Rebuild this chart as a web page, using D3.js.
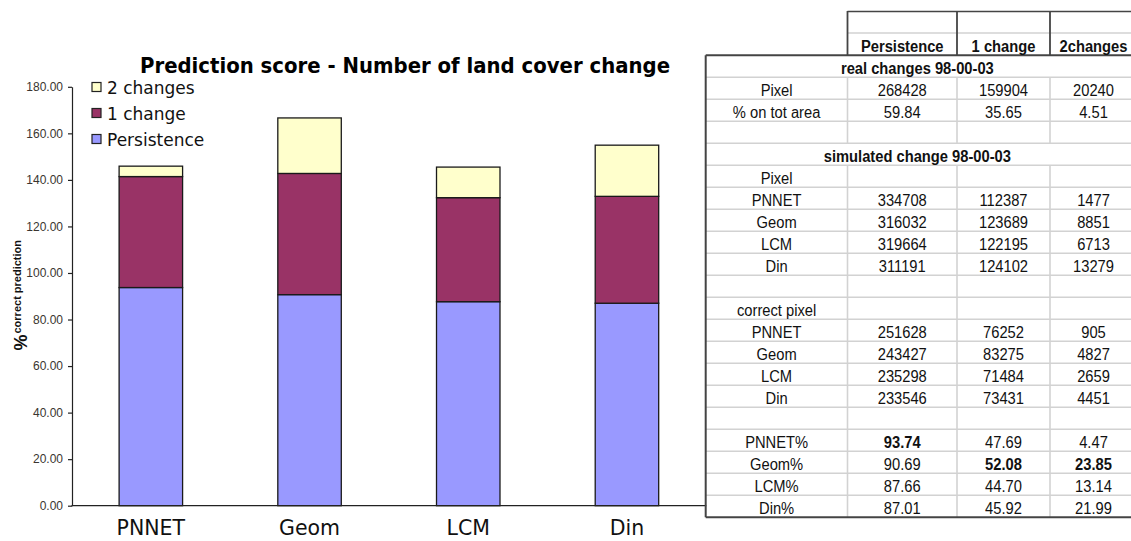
<!DOCTYPE html>
<html>
<head>
<meta charset="utf-8">
<script src="https://cdn.jsdelivr.net/npm/d3@7"></script>
<style>
  html, body { margin: 0; padding: 0; background: #fff; }
  svg { display: block; }
</style>
</head>
<body>
<svg id="chart" width="1131" height="541"></svg>
<script>
// ---------- chart data ----------
const categories = ["PNNET", "Geom", "LCM", "Din"];
const seriesNames = ["Persistence", "1 change", "2 changes"];
const persistence = [93.74, 90.69, 87.66, 87.01];
const oneChange = [47.69, 52.08, 44.70, 45.92];
const twoChanges = [4.47, 23.85, 13.14, 21.99];
const yTicks = [0, 20, 40, 60, 80, 100, 120, 140, 160, 180];
const seriesColors = ["#9999ff", "#993366", "#ffffcc"];
const titleText = "Prediction score - Number of land cover change";

// ---------- table data ----------
const tableColumns = ["Persistence", "1 change", "2changes"];
const realTitle = "real changes 98-00-03";
const realPixel = [268428, 159904, 20240];
const realPct = [59.84, 35.65, 4.51];
const simTitle = "simulated change 98-00-03";
const simPixel = [
  [334708, 112387, 1477],
  [316032, 123689, 8851],
  [319664, 122195, 6713],
  [311191, 124102, 13279]
];
const correctPixel = [
  [251628, 76252, 905],
  [243427, 83275, 4827],
  [235298, 71484, 2659],
  [233546, 73431, 4451]
];

const svg = d3.select("#chart");

// ---------- scales ----------
const y = d3.scaleLinear().domain([0, 180]).range([505.7, 86.8]);
const x = d3.scaleBand().domain(categories).range([71.5, 706.3])
  .paddingInner(0.6).paddingOuter(0.3);

const rows = categories.map((c, i) => ({
  cat: c,
  "Persistence": persistence[i],
  "1 change": oneChange[i],
  "2 changes": twoChanges[i]
}));
const stacked = d3.stack().keys(seriesNames)(rows);
const color = d3.scaleOrdinal().domain(seriesNames).range(seriesColors);

// ---------- bars ----------
const gBars = svg.append("g");
stacked.forEach(layer => {
  gBars.selectAll(null).data(layer).join("rect")
    .attr("x", d => x(d.data.cat))
    .attr("width", x.bandwidth())
    .attr("y", d => y(d[1]))
    .attr("height", d => y(d[0]) - y(d[1]))
    .attr("fill", color(layer.key))
    .attr("stroke", "#1a1a1a")
    .attr("stroke-width", 1.3);
});

// ---------- axes ----------
const yAxis = svg.append("g")
  .attr("transform", "translate(72,0)")
  .call(d3.axisLeft(y).tickValues(yTicks).tickFormat(d3.format(".2f"))
    .tickSize(4).tickSizeOuter(0).tickPadding(5));
yAxis.select(".domain").attr("stroke", "#222").attr("stroke-width", 1.2);
yAxis.selectAll(".tick line").attr("stroke", "#222").attr("stroke-width", 1.2);
yAxis.selectAll(".tick text")
  .attr("font-family", "'Liberation Sans', Arial, sans-serif")
  .attr("font-size", "12px")
  .attr("fill", "#3a3530");

// x axis line + labels
svg.append("line")
  .attr("x1", x.range()[0]).attr("x2", x.range()[1])
  .attr("y1", y(0)).attr("y2", y(0))
  .attr("stroke", "#222").attr("stroke-width", 1.3);

svg.append("g").selectAll("text").data(categories).join("text")
  .attr("x", d => x(d) + x.bandwidth() / 2)
  .attr("y", 535)
  .attr("text-anchor", "middle")
  .attr("font-family", "'DejaVu Sans', sans-serif")
  .attr("font-size", "20.5px")
  .attr("fill", "#111")
  .text(d => d);

// y-axis title
svg.append("text")
  .attr("transform", "translate(26.5,350.5) rotate(-90)")
  .attr("font-family", "'Liberation Sans', Arial, sans-serif")
  .attr("font-weight", "bold")
  .attr("font-size", "18px")
  .attr("fill", "#111")
  .text("%");
svg.append("text")
  .attr("transform", "translate(20.5,333.5) rotate(-90)")
  .attr("font-family", "'Liberation Sans', Arial, sans-serif")
  .attr("font-weight", "bold")
  .attr("font-size", "11px")
  .attr("fill", "#111")
  .text("correct prediction");

// title
svg.append("text")
  .attr("x", 140).attr("y", 73)
  .attr("font-family", "'DejaVu Sans', sans-serif")
  .attr("font-weight", "bold")
  .attr("font-size", "22px")
  .attr("fill", "#000")
  .attr("textLength", 530)
  .attr("lengthAdjust", "spacingAndGlyphs")
  .text(titleText);

// legend
const legendOrder = seriesNames.slice().reverse();
const gLeg = svg.append("g");
legendOrder.forEach((name, i) => {
  const by = 94 + i * 26;
  gLeg.append("rect")
    .attr("x", 92).attr("y", by - 11.5).attr("width", 9).attr("height", 9)
    .attr("fill", color(name)).attr("stroke", "#222").attr("stroke-width", 1.2);
  gLeg.append("text")
    .attr("x", 107).attr("y", by)
    .attr("font-family", "'DejaVu Sans', sans-serif")
    .attr("font-size", "17px")
    .attr("fill", "#111")
    .text(name);
});

// ---------- table ----------
const colX = [705.7, 847.5, 957, 1050, 1137];
const tTop = 55.3, rowH = 22;
const fmt2 = d3.format(".2f");
const pctCols = [persistence, oneChange, twoChanges];
const colMax = pctCols.map(a => d3.max(a));

const tRows = [];
tRows.push({ merged: realTitle });
tRows.push({ label: "Pixel", values: realPixel.map(String) });
tRows.push({ label: "% on tot area", values: realPct.map(fmt2) });
tRows.push({ label: "", values: [] });
tRows.push({ merged: simTitle });
tRows.push({ label: "Pixel", values: [] });
categories.forEach((c, i) => tRows.push({ label: c, values: simPixel[i].map(String) }));
tRows.push({ label: "", values: [] });
tRows.push({ label: "correct pixel", values: [] });
categories.forEach((c, i) => tRows.push({ label: c, values: correctPixel[i].map(String) }));
tRows.push({ label: "", values: [] });
categories.forEach((c, i) => tRows.push({
  label: c + "%",
  values: pctCols.map(a => fmt2(a[i])),
  bold: pctCols.map((a, j) => a[i] === colMax[j])
}));

const gT = svg.append("g");
const gridColor = "#d2d2d2";
const tBottom = tTop + rowH * tRows.length;

for (let r = 1; r < tRows.length; r++) {
  gT.append("line")
    .attr("x1", colX[0]).attr("x2", 1131)
    .attr("y1", tTop + r * rowH).attr("y2", tTop + r * rowH)
    .attr("stroke", gridColor).attr("stroke-width", 1.6);
}
tRows.forEach((row, r) => {
  if (row.merged) return;
  [1, 2, 3].forEach(c => {
    gT.append("line")
      .attr("x1", colX[c]).attr("x2", colX[c])
      .attr("y1", tTop + r * rowH).attr("y2", tTop + (r + 1) * rowH)
      .attr("stroke", gridColor).attr("stroke-width", 1.6);
  });
});

gT.append("line").attr("x1", colX[1]).attr("x2", 1131).attr("y1", 33).attr("y2", 33)
  .attr("stroke", gridColor).attr("stroke-width", 1.6);
gT.append("line").attr("x1", colX[1]).attr("x2", 1131).attr("y1", 11.5).attr("y2", 11.5)
  .attr("stroke", "#444").attr("stroke-width", 1.6);
[1, 2, 3].forEach(c => {
  gT.append("line").attr("x1", colX[c]).attr("x2", colX[c]).attr("y1", 11).attr("y2", tTop)
    .attr("stroke", "#444").attr("stroke-width", 1.8);
});

gT.append("line").attr("x1", colX[0]).attr("x2", 1131).attr("y1", tTop).attr("y2", tTop)
  .attr("stroke", "#444").attr("stroke-width", 2);
gT.append("line").attr("x1", colX[0]).attr("x2", colX[0]).attr("y1", tTop).attr("y2", tBottom)
  .attr("stroke", "#444").attr("stroke-width", 2);
gT.append("line").attr("x1", colX[0]).attr("x2", 1131).attr("y1", tBottom).attr("y2", tBottom)
  .attr("stroke", "#444").attr("stroke-width", 2);

function cellText(cx, baseY, txt, bold) {
  gT.append("text")
    .attr("transform", `translate(${cx},${baseY}) scale(0.92,1)`)
    .attr("text-anchor", "middle")
    .attr("font-family", "'Liberation Sans', Arial, sans-serif")
    .attr("font-size", "16px")
    .attr("font-weight", bold ? "bold" : "normal")
    .attr("fill", "#111")
    .text(txt);
}

tableColumns.forEach((t, c) => cellText((colX[c + 1] + colX[c + 2]) / 2, tTop - 3.8, t, true));

tRows.forEach((row, r) => {
  const base = tTop + (r + 1) * rowH - 3.8;
  if (row.merged) {
    cellText((colX[0] + colX[4]) / 2 - 4, base, row.merged, true);
    return;
  }
  if (row.label) cellText((colX[0] + colX[1]) / 2, base, row.label, false);
  row.values.forEach((v, c) => {
    cellText((colX[c + 1] + colX[c + 2]) / 2, base, v, row.bold ? row.bold[c] : false);
  });
});
</script>
</body>
</html>
